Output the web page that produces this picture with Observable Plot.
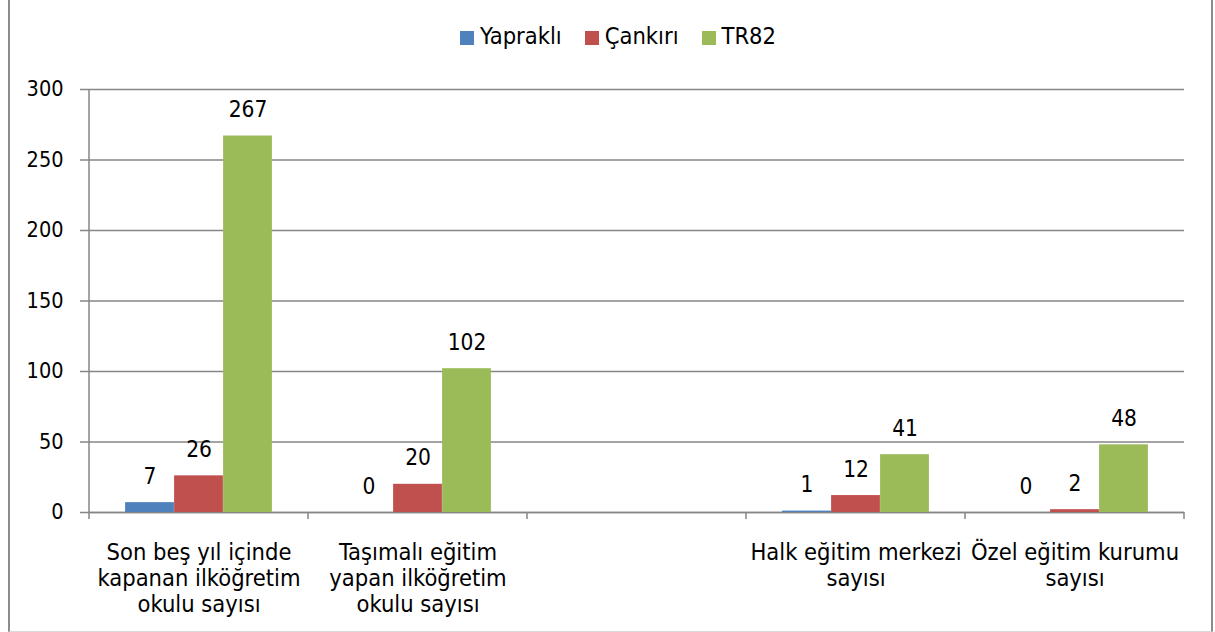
<!DOCTYPE html>
<html>
<head>
<meta charset="utf-8">
<script src="https://cdn.jsdelivr.net/npm/d3@7"></script>
<script src="https://cdn.jsdelivr.net/npm/@observablehq/plot@0.6"></script>
<style>
  html, body { margin: 0; padding: 0; background: #fff; }
  #wrap { position: relative; width: 1215px; height: 632px; overflow: hidden; font-family: "DejaVu Sans Condensed", "DejaVu Sans", sans-serif; }
  #frame { position: absolute; left: 8px; top: -3px; width: 1205px; height: 635px; border: 2px solid #8c8c8c; border-top: none; box-sizing: border-box; border-bottom: 1px solid #d9d9d9; }
  #legend { position: absolute; top: 22px; left: 460px; display: flex; align-items: center; font-size: 23.5px; color: #000; }
  #legend .item { display: flex; align-items: center; margin-right: 23px; }
  #legend .sw { width: 14px; height: 14px; margin-right: 6px; margin-top: 3px; }
  #chart { position: absolute; left: 0; top: 0; }
</style>
</head>
<body>
<div id="wrap">
  <div id="frame"></div>
  <div id="legend"></div>
  <div id="chart"></div>
</div>
<script>
// ---- data ----
const categories = [
  "Son beş yıl içinde\nkapanan ilköğretim\nokulu sayısı",
  "Taşımalı eğitim\nyapan ilköğretim\nokulu sayısı",
  "",
  "Halk eğitim merkezi\nsayısı",
  "Özel eğitim kurumu\nsayısı"
];
const seriesNames = ["Yapraklı", "Çankırı", "TR82"];
const seriesColors = ["#4F81BD", "#C0504D", "#9BBB59"];
const yapraklı = [7, 0, null, 1, 0];
const cankiri = [26, 20, null, 12, 2];
const tr82 = [267, 102, null, 41, 48];
const yTicks = [0, 50, 100, 150, 200, 250, 300];

const seriesValues = [yapraklı, cankiri, tr82];
const rows = [];
seriesNames.forEach((s, si) => {
  categories.forEach((c, ci) => {
    const v = seriesValues[si][ci];
    if (v != null) rows.push({category: c, series: s, value: v});
  });
});

// ---- layout ----
const W = 1215, H = 632;
const mL = 88, mR = 31, mT = 89, mB = 120;
const bw = (W - mL - mR) / categories.length;
const barW = 49;
const off = (bw - seriesNames.length * barW) / 2;
const TICKFONT = 21.5, LABELFONT = 22.5, CATFONT = 23.5;
const gridColor = "#868686";

function boundaryTicks() {
  return (index, scales, values, dims) => {
    const x = scales.x;
    const band = x.bandwidth ? x.bandwidth() : bw;
    const edges = categories.map(d => x(d));
    edges.push(x(categories[categories.length - 1]) + band);
    const y0 = dims.height - dims.marginBottom;
    const g = d3.create("svg:g").attr("stroke", gridColor).attr("stroke-width", 1.5);
    for (const e of edges) {
      g.append("line").attr("x1", e).attr("x2", e).attr("y1", y0).attr("y2", y0 + 7);
    }
    // left value axis line
    g.append("line").attr("x1", edges[0]).attr("x2", edges[0]).attr("y1", dims.marginTop).attr("y2", y0);
    return g.node();
  };
}

const marks = [
  Plot.gridY(yTicks, {stroke: gridColor, strokeOpacity: 1, strokeWidth: 1.5}),
  Plot.axisY(yTicks, {label: null, tickSize: 8, tickPadding: 17, stroke: gridColor, strokeWidth: 1.5, fontSize: TICKFONT, fill: "#000"}),
  Plot.axisX({label: null, tickSize: 0, tickPadding: 29, fontSize: CATFONT, lineHeight: 1.11, fill: "#000", tickFormat: d => d}),
  Plot.ruleY([0], {stroke: gridColor, strokeWidth: 1.5}),
  boundaryTicks()
];
seriesNames.forEach((s, i) => {
  const d = rows.filter(r => r.series === s);
  marks.push(Plot.barY(d, {
    x: "category", y: "value", fill: seriesColors[i],
    insetLeft: off + i * barW, insetRight: bw - off - (i + 1) * barW
  }));
  marks.push(Plot.text(d, {
    x: "category", y: "value", text: d => String(d.value),
    dx: off + (i + 0.5) * barW - bw / 2, dy: -19, lineAnchor: "bottom",
    fontSize: LABELFONT, fill: "#000"
  }));
});

const chart = Plot.plot({
  width: W, height: H,
  marginLeft: mL, marginRight: mR, marginTop: mT, marginBottom: mB,
  style: {fontFamily: '"DejaVu Sans Condensed", "DejaVu Sans", sans-serif', background: "transparent", overflow: "visible"},
  x: {domain: categories, padding: 0, axis: null},
  y: {domain: [0, 300], axis: null},
  marks
});
document.getElementById("chart").appendChild(chart);

// legend
const leg = document.getElementById("legend");
seriesNames.forEach((s, i) => {
  const item = document.createElement("div");
  item.className = "item";
  const sw = document.createElement("span");
  sw.className = "sw";
  sw.style.background = seriesColors[i];
  const t = document.createElement("span");
  t.textContent = s;
  item.appendChild(sw); item.appendChild(t);
  leg.appendChild(item);
});
</script>
</body>
</html>
